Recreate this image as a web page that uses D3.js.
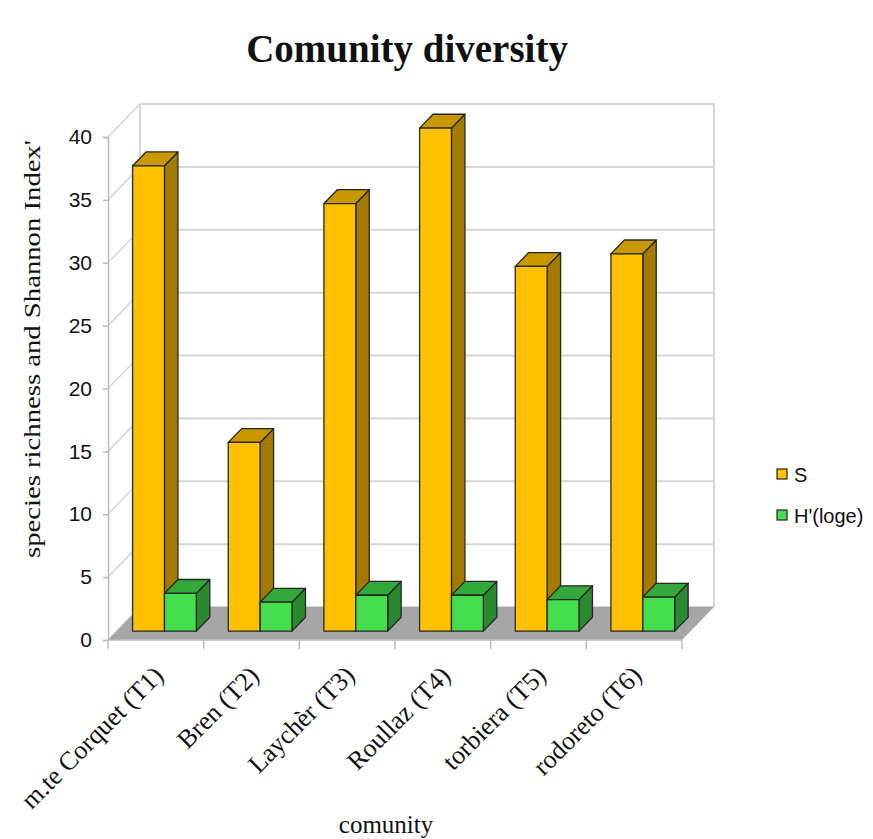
<!DOCTYPE html>
<html>
<head>
<meta charset="utf-8">
<script src="https://cdn.jsdelivr.net/npm/d3@7"></script>
<style>
  html, body { margin: 0; padding: 0; background: #fff; }
  svg { display: block; }
</style>
</head>
<body>
<svg id="chart" width="873" height="839"></svg>
<script>
// Community diversity data: species richness (S) and Shannon index H'(loge)
const categories = ["m.te Corquet (T1)", "Bren (T2)", "Laychèr (T3)", "Roullaz (T4)", "torbiera (T5)", "rodoreto (T6)"];
const seriesNames = ["S", "H'(loge)"];
const richness = [37, 15, 34, 40, 29, 30];
const shannon = [3.0, 2.3, 2.85, 2.85, 2.5, 2.7];
const yTicks = [0, 5, 10, 15, 20, 25, 30, 35, 40];

const svg = d3.select("#chart");

// Front plane of the 3-D box
const plotLeft = 108, plotRight = 682, plotBottom = 640, plotTop = 137;
// Depth vector from the front plane to the back wall
const DX = 32, DY = -33;
// Depth span occupied by the columns (fractions of total depth)
const f0 = 0.27, f1 = 0.69;

const x = d3.scaleBand().domain(categories).range([plotLeft, plotRight]).padding(0);
const xs = d3.scaleBand().domain(seriesNames).range([0, x.bandwidth()]).paddingInner(0).paddingOuter(0.5);
const y = d3.scaleLinear().domain([0, 40]).range([plotBottom, plotTop]);

const faces = {
  "S":        { front: "#FFC000", top: "#C99800", side: "#A27B00" },
  "H'(loge)": { front: "#44DD4C", top: "#33A83B", side: "#2B8A30" }
};
const gridColor = "#d6d6d6";

const P = (px, py, f) => [px + DX * f, py + DY * f];
const poly = pts => pts.map(p => p.join(",")).join(" ");

// Back wall gridlines and left wall diagonals
const walls = svg.append("g");
yTicks.forEach(t => {
  const yy = y(t);
  walls.append("line")
    .attr("x1", plotLeft + DX).attr("y1", yy + DY)
    .attr("x2", plotRight + DX).attr("y2", yy + DY)
    .attr("stroke", gridColor).attr("stroke-width", 2);
  walls.append("line")
    .attr("x1", plotLeft).attr("y1", yy)
    .attr("x2", plotLeft + DX).attr("y2", yy + DY)
    .attr("stroke", gridColor).attr("stroke-width", 1.5);
});
// Back wall vertical edges
[plotLeft + DX, plotRight + DX].forEach(xx => {
  walls.append("line")
    .attr("x1", xx).attr("y1", y(40) + DY)
    .attr("x2", xx).attr("y2", y(0) + DY)
    .attr("stroke", gridColor).attr("stroke-width", 2);
});

// Floor
svg.append("polygon")
  .attr("points", poly([[plotLeft, plotBottom], [plotRight, plotBottom], [plotRight + DX, plotBottom + DY], [plotLeft + DX, plotBottom + DY]]))
  .attr("fill", "#a6a6a6");

// Columns
const bars = svg.append("g").attr("stroke", "#262626").attr("stroke-width", 1.3).attr("stroke-linejoin", "round");
categories.forEach((c, i) => {
  const vals = { "S": richness[i], "H'(loge)": shannon[i] };
  seriesNames.forEach(s => {
    const x0 = x(c) + xs(s), x1 = x0 + xs.bandwidth();
    const yb = y(0), yt = y(vals[s]);
    const g = bars.append("g");
    // side face
    g.append("polygon")
      .attr("points", poly([P(x1, yt, f0), P(x1, yt, f1), P(x1, yb, f1), P(x1, yb, f0)]))
      .attr("fill", faces[s].side);
    // top face
    g.append("polygon")
      .attr("points", poly([P(x0, yt, f0), P(x1, yt, f0), P(x1, yt, f1), P(x0, yt, f1)]))
      .attr("fill", faces[s].top);
    // front face
    g.append("polygon")
      .attr("points", poly([P(x0, yt, f0), P(x1, yt, f0), P(x1, yb, f0), P(x0, yb, f0)]))
      .attr("fill", faces[s].front);
  });
});

// Y axis on the front plane
const yAxis = svg.append("g")
  .attr("transform", `translate(${plotLeft},0)`)
  .call(d3.axisLeft(y).tickValues(yTicks).tickSize(5).tickPadding(11).tickFormat(d3.format("d")));
yAxis.select(".domain").attr("stroke", "#bdbdbd").attr("stroke-width", 1.5);
yAxis.selectAll(".tick line").attr("stroke", "#bdbdbd").attr("stroke-width", 1.5);
yAxis.selectAll(".tick text")
  .attr("font-family", "Liberation Sans, Arial, sans-serif")
  .attr("font-size", 21).attr("fill", "#111");

// X axis on the front plane
const xAxisG = svg.append("g");
xAxisG.append("line")
  .attr("x1", plotLeft).attr("x2", plotRight).attr("y1", plotBottom).attr("y2", plotBottom)
  .attr("stroke", "#bdbdbd").attr("stroke-width", 1.5);
const bounds = categories.map(c => x(c)).concat([plotRight]);
xAxisG.selectAll("line.tk").data(bounds).join("line").attr("class", "tk")
  .attr("x1", d => d).attr("x2", d => d)
  .attr("y1", plotBottom).attr("y2", plotBottom + 9)
  .attr("stroke", "#bdbdbd").attr("stroke-width", 1.5);
xAxisG.selectAll("text").data(categories).join("text")
  .attr("transform", d => `translate(${x(d) + x.bandwidth() / 2 + 9},${plotBottom + 37}) rotate(-45)`)
  .attr("text-anchor", "end")
  .attr("font-family", "Liberation Serif, Times New Roman, serif")
  .attr("font-size", 26).attr("fill", "#111")
  .text(d => d);

// Titles
svg.append("text")
  .attr("x", 407).attr("y", 62)
  .attr("text-anchor", "middle")
  .attr("font-family", "Liberation Serif, Times New Roman, serif")
  .attr("font-weight", "bold").attr("font-size", 39).attr("fill", "#111")
  .text("Comunity diversity");

svg.append("text")
  .attr("transform", "translate(40,349) rotate(-90)")
  .attr("text-anchor", "middle")
  .attr("font-family", "Liberation Serif, Times New Roman, serif")
  .attr("font-size", 23).attr("fill", "#111")
  .attr("textLength", 418).attr("lengthAdjust", "spacingAndGlyphs")
  .text("species richness and Shannon Index'");

svg.append("text")
  .attr("x", 386).attr("y", 833)
  .attr("text-anchor", "middle")
  .attr("font-family", "Liberation Serif, Times New Roman, serif")
  .attr("font-size", 25).attr("fill", "#111")
  .text("comunity");

// Legend
const legend = svg.append("g").attr("transform", "translate(777,469)");
seriesNames.forEach((s, i) => {
  const g = legend.append("g").attr("transform", `translate(0,${i * 41})`);
  g.append("rect").attr("width", 10).attr("height", 10)
    .attr("fill", faces[s].front).attr("stroke", "#262626").attr("stroke-width", 1.2);
  g.append("text").attr("x", 17).attr("y", 13)
    .attr("font-family", "Liberation Sans, Arial, sans-serif")
    .attr("font-size", 20).attr("fill", "#111")
    .text(s);
});
</script>
</body>
</html>
